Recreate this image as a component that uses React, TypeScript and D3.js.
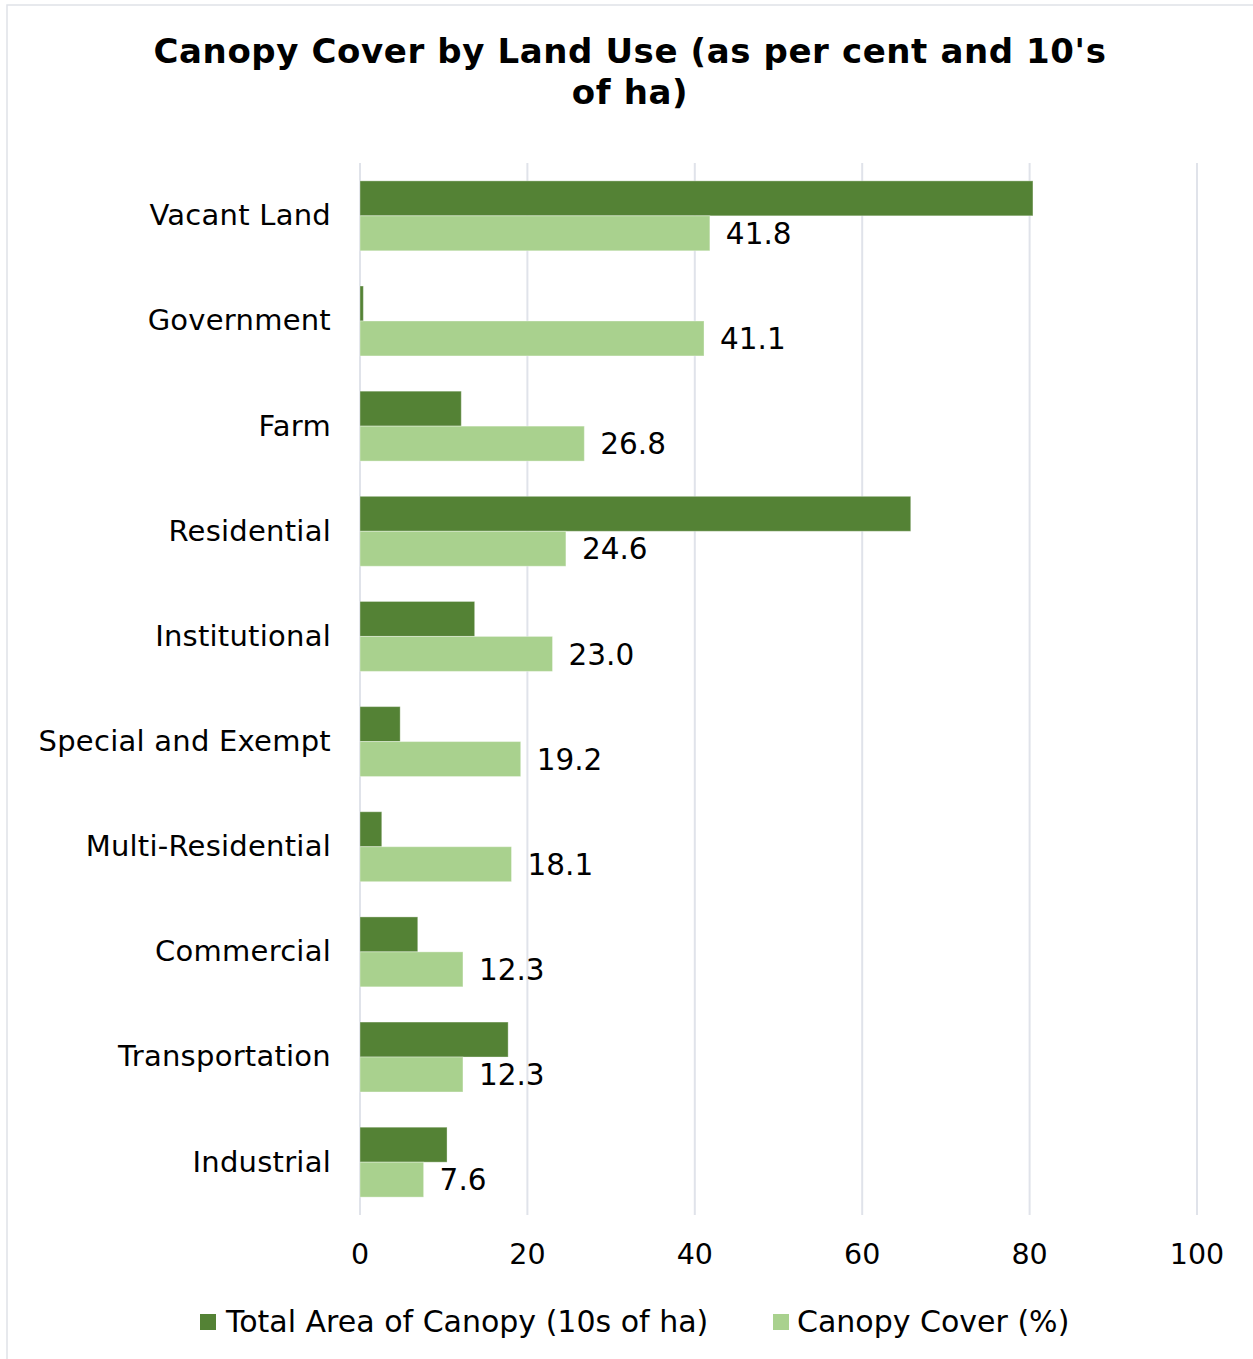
import React from "react";
import * as d3 from "d3";

const categories = [
  "Vacant Land",
  "Government",
  "Farm",
  "Residential",
  "Institutional",
  "Special and Exempt",
  "Multi-Residential",
  "Commercial",
  "Transportation",
  "Industrial",
];
const totalArea = [80.4, 0.4, 12.1, 65.8, 13.7, 4.8, 2.6, 6.9, 17.7, 10.4];
const canopyCover = [41.8, 41.1, 26.8, 24.6, 23.0, 19.2, 18.1, 12.3, 12.3, 7.6];
const xTicks = [0, 20, 40, 60, 80, 100];
const seriesNames = ["Total Area of Canopy (10s of ha)", "Canopy Cover (%)"];
const colors = ["#548235", "#A9D18E"];

const W = 1253;
const H = 1359;
const FONT = "'DejaVu Sans', Verdana, sans-serif";

export default function App() {
  const x = d3.scaleLinear().domain([0, 100]).range([360, 1197]);
  const y = d3
    .scaleBand<string>()
    .domain(categories)
    .range([163, 1215])
    .paddingInner(0.335)
    .paddingOuter(0.17);
  const bw = y.bandwidth();
  const half = bw / 2;

  return (
    <svg
      width={W}
      height={H}
      style={{ position: "absolute", left: 0, top: 0, background: "#fff" }}
      fontFamily={FONT}
    >
      <rect x={0} y={0} width={W} height={H} fill="#fff" />
      <rect x={7} y={5} width={W + 10} height={H + 10} fill="none" stroke="#dfe2e8" strokeWidth={1.5} />
      <text x={630} y={63} textAnchor="middle" fontSize={34} letterSpacing={0.6} fontWeight="bold" fill="#000">
        Canopy Cover by Land Use (as per cent and 10's
      </text>
      <text x={630} y={104} textAnchor="middle" fontSize={34} letterSpacing={0.6} fontWeight="bold" fill="#000">
        of ha)
      </text>

      {xTicks.map((t) => (
        <line key={"g" + t} x1={x(t)} x2={x(t)} y1={163} y2={1215} stroke="#e0e3ea" strokeWidth={2} />
      ))}

      {categories.map((c, i) => {
        const y0 = y(c) as number;
        return (
          <g key={c}>
            <rect
              x={x(0)}
              y={y0}
              width={x(totalArea[i]) - x(0)}
              height={half}
              fill={colors[0]}
              stroke="#ffffff"
              strokeOpacity={0.35}
              strokeWidth={1}
            />
            <rect
              x={x(0)}
              y={y0 + half}
              width={x(canopyCover[i]) - x(0)}
              height={half}
              fill={colors[1]}
              stroke="#ffffff"
              strokeOpacity={0.35}
              strokeWidth={1}
            />
            <text
              x={x(canopyCover[i]) + 16}
              y={y0 + half * 1.5}
              dy="0.36em"
              fontSize={29.5}
              fill="#000"
            >
              {canopyCover[i].toFixed(1)}
            </text>
            <text
              x={331}
              y={y0 + half - 1}
              dy="0.36em"
              textAnchor="end"
              fontSize={29}
              letterSpacing={0.25}
              fill="#000"
            >
              {c}
            </text>
          </g>
        );
      })}

      {xTicks.map((t) => (
        <text key={"t" + t} x={x(t)} y={1264} textAnchor="middle" fontSize={28.5} fill="#000">
          {t}
        </text>
      ))}

      <rect x={200} y={1314} width={16} height={16} fill={colors[0]} />
      <text x={226} y={1332} fontSize={30} fill="#000">
        {seriesNames[0]}
      </text>
      <rect x={773} y={1314} width={16} height={16} fill={colors[1]} />
      <text x={797} y={1332} fontSize={30} fill="#000">
        {seriesNames[1]}
      </text>
    </svg>
  );
}
